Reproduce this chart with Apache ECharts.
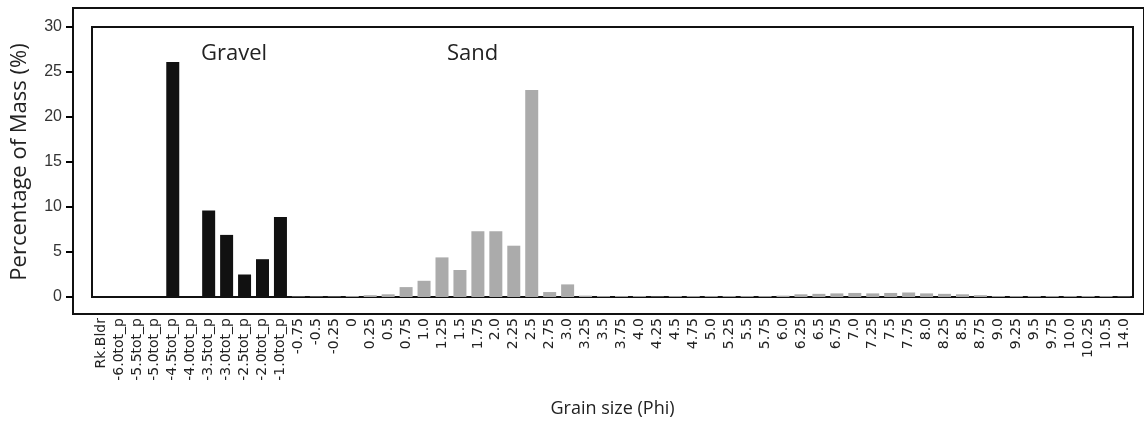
<!DOCTYPE html>
<html>
<head>
<meta charset="utf-8">
<script src="https://cdn.jsdelivr.net/npm/echarts@6/dist/echarts.min.js"></script>
<style>
  html, body { margin: 0; padding: 0; background: #fff; }
  #chart { width: 1144px; height: 433px; }
</style>
</head>
<body>
<div id="chart"></div>
<script>
// ============ 数据 ============
const gravelCategories = ['Rk.Bldr', '-6.0tot_p', '-5.5tot_p', '-5.0tot_p', '-4.5tot_p', '-4.0tot_p',
  '-3.5tot_p', '-3.0tot_p', '-2.5tot_p', '-2.0tot_p', '-1.0tot_p']
const gravelValues = [0, 0, 0, 0, 26.1, 0, 9.6, 6.9, 2.5, 4.2, 8.9]

const sandCategories = ['-0.75', '-0.5', '-0.25', '0', '0.25', '0.5', '0.75', '1.0', '1.25', '1.5',
  '1.75', '2.0', '2.25', '2.5', '2.75', '3.0', '3.25', '3.5', '3.75', '4.0', '4.25', '4.5', '4.75',
  '5.0', '5.25', '5.5', '5.75', '6.0', '6.25', '6.5', '6.75', '7.0', '7.25', '7.5', '7.75', '8.0',
  '8.25', '8.5', '8.75', '9.0', '9.25', '9.5', '9.75', '10.0', '10.25', '10.5', '14.0']
const sandValues = [0.05, 0.05, 0.05, 0.1, 0.2, 0.3, 1.1, 1.8, 4.4, 3.0,
  7.3, 7.3, 5.7, 23.0, 0.55, 1.4, 0.15, 0.1, 0.1, 0.1, 0.05, 0.1, 0.1,
  0.1, 0.1, 0.1, 0.1, 0.15, 0.3, 0.35, 0.4, 0.45, 0.4, 0.45, 0.5, 0.4,
  0.35, 0.3, 0.2, 0.1, 0.1, 0.1, 0.1, 0.1, 0.1, 0.1, 0.05]

const yTicks = { min: 0, max: 30, interval: 5 }

// ============ 样式 ============
const COLORS = {
  gravel: '#111111',
  sand: '#ababab',
  frame: '#111111',
  text: '#222222'
}

const categories = gravelCategories.concat(sandCategories)
const barData = gravelValues.map(v => ({ value: v, itemStyle: { color: COLORS.gravel } }))
  .concat(sandValues.map(v => ({ value: v, itemStyle: { color: COLORS.sand } })))

const chart = echarts.init(document.getElementById('chart'))

chart.setOption({
  animation: false,
  textStyle: { fontFamily: 'Open Sans' },
  grid: [
    // 内框
    { left: 92, top: 27, right: 11, bottom: 136, show: true, borderColor: COLORS.frame, borderWidth: 2 },
    // 外框
    { left: 73, top: 8, right: -4, bottom: 119, show: true, borderColor: COLORS.frame, borderWidth: 2 }
  ],
  xAxis: [
    {
      type: 'category',
      gridIndex: 0,
      data: categories,
      offset: 17,
      axisLine: { show: false },
      axisTick: { show: false },
      axisLabel: {
        interval: 0,
        rotate: 90,
        margin: 4,
        fontSize: 14,
        fontFamily: 'DejaVu Sans',
        color: COLORS.text
      },
      name: 'Grain size (Phi)',
      nameLocation: 'middle',
      nameGap: 86,
      nameTextStyle: { fontSize: 18, color: COLORS.text, fontFamily: 'Open Sans' }
    },
    { type: 'value', gridIndex: 1, show: false }
  ],
  yAxis: [
    {
      type: 'value',
      gridIndex: 0,
      position: 'left',
      min: yTicks.min,
      max: yTicks.max,
      interval: yTicks.interval,
      offset: 19,
      splitLine: { show: false },
      axisLine: { show: true, onZero: false, lineStyle: { color: COLORS.frame, width: 2 } },
      axisTick: { show: true, inside: false, length: 7, lineStyle: { color: '#000000', width: 2 } },
      axisLabel: { fontSize: 16, color: '#333', margin: 11, fontFamily: 'Liberation Sans' },
      name: 'Percentage of Mass (%)',
      nameLocation: 'middle',
      nameGap: 42,
      nameTextStyle: { fontSize: 22, color: COLORS.text, fontFamily: 'Open Sans' }
    },
    { type: 'value', gridIndex: 1, show: false }
  ],
  series: [
    {
      type: 'bar',
      xAxisIndex: 0,
      yAxisIndex: 0,
      barWidth: 13,
      data: barData
    }
  ],
  graphic: [
    { type: 'text', left: 201, top: 43, style: { text: 'Gravel', fontSize: 22, fontFamily: 'Open Sans', fill: COLORS.text } },
    { type: 'text', left: 447, top: 43, style: { text: 'Sand', fontSize: 22, fontFamily: 'Open Sans', fill: COLORS.text } }
  ]
})
</script>
</body>
</html>
